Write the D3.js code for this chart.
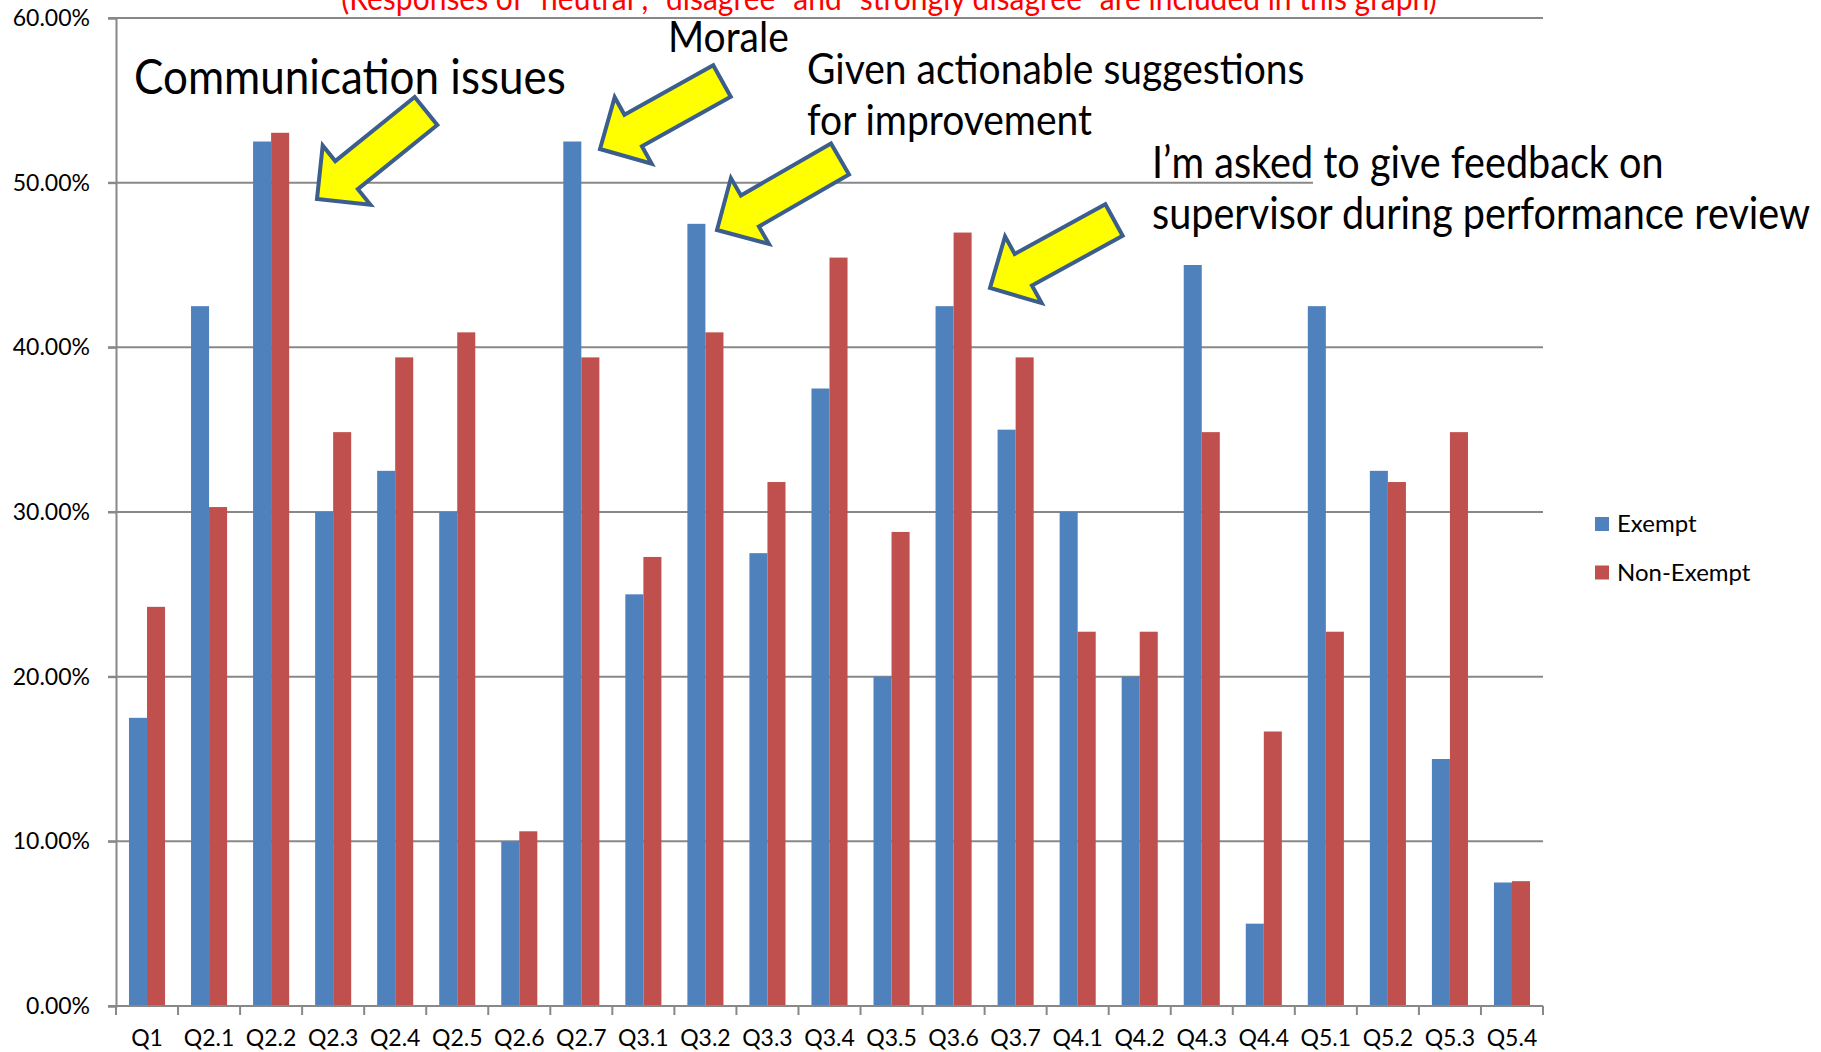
<!DOCTYPE html>
<html>
<head>
<meta charset="utf-8">
<script src="https://cdn.jsdelivr.net/npm/d3@7"></script>
<style>
  body { margin: 0; background: #fff; }
  svg { display: block; font-family: Lato, "Open Sans", sans-serif; }
</style>
</head>
<body>
<svg id="chart" width="1821" height="1052"></svg>
<script>
var categories = ["Q1", "Q2.1", "Q2.2", "Q2.3", "Q2.4", "Q2.5", "Q2.6", "Q2.7", "Q3.1", "Q3.2", "Q3.3", "Q3.4",
    "Q3.5", "Q3.6", "Q3.7", "Q4.1", "Q4.2", "Q4.3", "Q4.4", "Q5.1", "Q5.2", "Q5.3", "Q5.4"];
var seriesNames = ["Exempt", "Non-Exempt"];
var exempt = [0.175, 0.425, 0.525, 0.30, 0.325, 0.30, 0.10, 0.525, 0.25, 0.475, 0.275, 0.375,
    0.20, 0.425, 0.35, 0.30, 0.20, 0.45, 0.05, 0.425, 0.325, 0.15, 0.075];
var nonExempt = [0.2424, 0.3030, 0.5303, 0.3485, 0.3939, 0.4091, 0.1061, 0.3939, 0.2727, 0.4091, 0.3182, 0.4545,
    0.2879, 0.4697, 0.3939, 0.2273, 0.2273, 0.3485, 0.1667, 0.2273, 0.3182, 0.3485, 0.0758];
var yTicks = [0, 0.1, 0.2, 0.3, 0.4, 0.5, 0.6];
var colors = ["#4F81BD", "#C0504D"];

var subtitle = "(Responses of \u201Cneutral\u201D, \u201Cdisagree\u201D and \u201Cstrongly disagree\u201D are included in this graph)";

// callouts: text lines + block arrow (tail -> tip)
var callouts = [
    { lines: ["Communication issues"], x: 134, y: 94, size: 44, tail: [426, 111], tip: [317, 199] },
    { lines: ["Morale"], x: 668, y: 52, size: 39, tail: [722, 81], tip: [600, 149] },
    { lines: ["Given actionable suggestions", "for improvement"], x: 807, y: 84, size: 39, tail: [840, 159], tip: [717, 230] },
    { lines: ["I\u2019m asked to give feedback on", "supervisor during performance review"], x: 1152, y: 178, size: 39.6, tail: [1114, 220], tip: [990, 288] }
];

var svg = d3.select("#chart");
var margin = { left: 116, right: 1543, top: 18, bottom: 1006 };

var x0 = d3.scaleBand()
    .domain(categories)
    .range([margin.left, margin.right]);

var x1 = d3.scaleBand()
    .domain(seriesNames)
    .range([0, x0.bandwidth()])
    .paddingInner(0)
    .paddingOuter(0.72);

var y = d3.scaleLinear()
    .domain([0, 0.6])
    .range([margin.bottom, margin.top]);

var gridColor = "#888888";

// gridlines
svg.append("g")
    .selectAll("line")
    .data(yTicks)
    .enter()
    .append("line")
    .attr("x1", margin.left - 8)
    .attr("x2", margin.right)
    .attr("y1", function (d) { return y(d); })
    .attr("y2", function (d) { return y(d); })
    .style("stroke", gridColor)
    .style("stroke-width", 2);

// y axis
var yAxis = svg.append("g")
    .attr("transform", "translate(" + margin.left + ",0)")
    .call(d3.axisLeft(y).tickValues(yTicks).tickFormat(d3.format(".2%")).tickSize(8).tickPadding(18));
yAxis.select(".domain").style("stroke", gridColor).style("stroke-width", 2);
yAxis.selectAll(".tick line").style("stroke", gridColor).style("stroke-width", 2);
yAxis.selectAll("text")
    .style("font-size", "23px")
    .style("font-family", "Lato, sans-serif")
    .style("fill", "#000");

// bars
var groups = svg.append("g")
    .selectAll("g")
    .data(categories)
    .enter()
    .append("g")
    .attr("transform", function (d) { return "translate(" + x0(d) + ",0)"; });

groups.selectAll("rect")
    .data(function (d, i) {
        return [
            { key: seriesNames[0], value: exempt[i] },
            { key: seriesNames[1], value: nonExempt[i] }
        ];
    })
    .enter()
    .append("rect")
    .attr("x", function (d) { return x1(d.key); })
    .attr("width", x1.bandwidth())
    .attr("y", function (d) { return y(d.value); })
    .attr("height", function (d) { return y(0) - y(d.value); })
    .style("fill", function (d, i) { return colors[i]; });

// x axis
var xAxisG = svg.append("g").attr("transform", "translate(0," + margin.bottom + ")");
xAxisG.append("line")
    .attr("x1", margin.left - 8)
    .attr("x2", margin.right)
    .style("stroke", gridColor)
    .style("stroke-width", 2);
var boundaries = categories.map(function (c) { return x0(c); }).concat([margin.right]);
xAxisG.selectAll(".xtick")
    .data(boundaries)
    .enter()
    .append("line")
    .attr("class", "xtick")
    .attr("x1", function (d) { return d; })
    .attr("x2", function (d) { return d; })
    .attr("y1", 0)
    .attr("y2", 9)
    .style("stroke", gridColor)
    .style("stroke-width", 2);
xAxisG.selectAll(".xlabel")
    .data(categories)
    .enter()
    .append("text")
    .attr("class", "xlabel")
    .attr("x", function (d) { return x0(d) + x0.bandwidth() / 2; })
    .attr("y", 40)
    .attr("text-anchor", "middle")
    .style("font-size", "23px")
    .text(function (d) { return d; });

// legend
var legend = svg.append("g").attr("transform", "translate(1595,517)");
seriesNames.forEach(function (name, i) {
    legend.append("rect")
        .attr("x", 0)
        .attr("y", i * 48.5)
        .attr("width", 14)
        .attr("height", 14)
        .style("fill", colors[i]);
    legend.append("text")
        .attr("x", 22)
        .attr("y", i * 48.5 + 15)
        .style("font-size", "24px")
        .text(name);
});

// text box covering part of 50% gridline
svg.append("rect")
    .attr("x", 1313)
    .attr("y", y(0.5) - 5)
    .attr("width", margin.right - 1313 + 2)
    .attr("height", 10)
    .style("fill", "#fff");

// red subtitle (cut at the top, as in the source)
svg.append("text")
    .attr("transform", "translate(889,10) scale(1,1.1)")
    .attr("text-anchor", "middle")
    .style("font-size", "30px")
    .style("fill", "#FF0000")
    .text(subtitle);

// callouts
function arrowPoints(tail, tip) {
    var dx = tip[0] - tail[0], dy = tip[1] - tail[1];
    var len = Math.sqrt(dx * dx + dy * dy);
    var ux = dx / len, uy = dy / len;
    var px = -uy, py = ux;
    var sh = 18, hh = 38, hl = 38;
    var local = [[0, -sh], [len - hl, -sh], [len - hl, -hh], [len, 0], [len - hl, hh], [len - hl, sh], [0, sh]];
    return local.map(function (p) {
        return [tail[0] + ux * p[0] + px * p[1], tail[1] + uy * p[0] + py * p[1]];
    });
}

var line = d3.line();
callouts.forEach(function (c) {
    svg.append("path")
        .attr("d", line(arrowPoints(c.tail, c.tip)) + "Z")
        .style("fill", "#FFFF00")
        .style("stroke", "#3B5E8C")
        .style("stroke-width", 4)
        .style("stroke-linejoin", "miter");
    c.lines.forEach(function (t, i) {
        svg.append("text")
            .attr("transform", "translate(" + c.x + "," + (c.y + i * 51) + ") scale(1,1.1)")
            .style("font-size", c.size + "px")
            .style("fill", "#000")
            .text(t);
    });
});
</script>
</body>
</html>
